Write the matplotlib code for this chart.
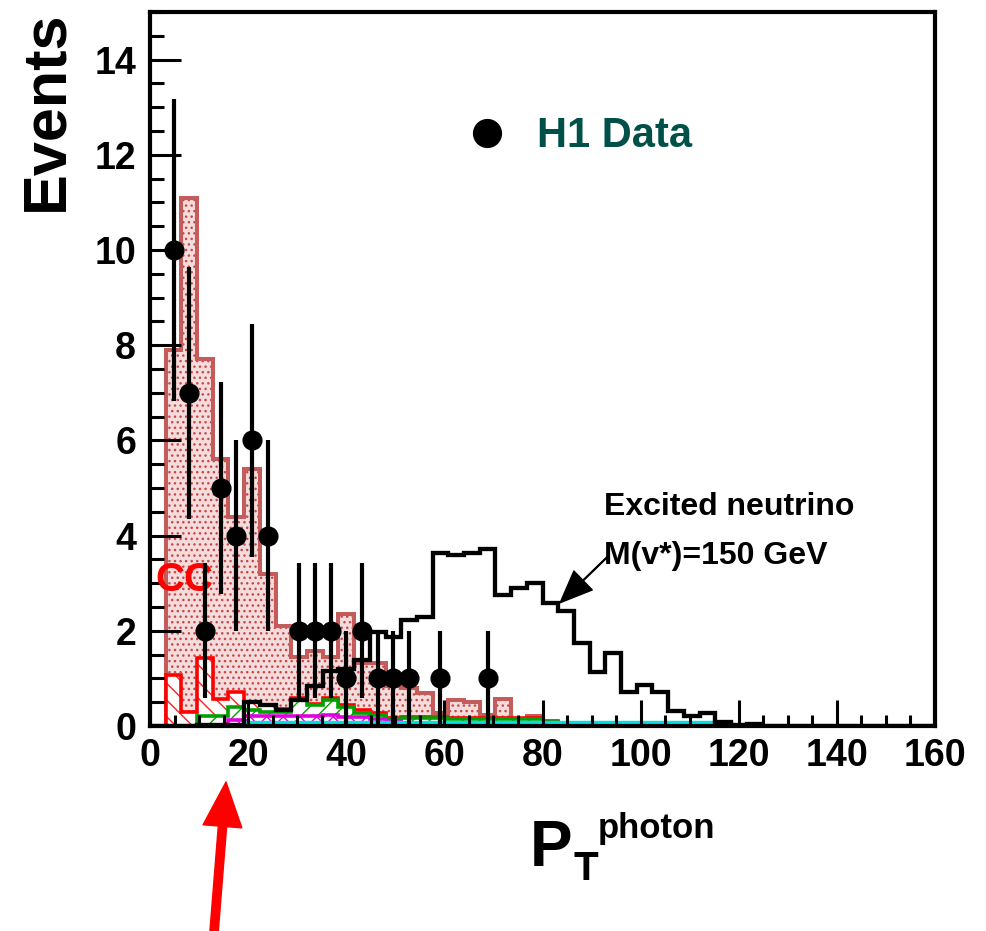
import numpy as np
import matplotlib
matplotlib.use("Agg")
import matplotlib.pyplot as plt
from matplotlib.lines import Line2D
from matplotlib.ticker import MultipleLocator

# -----------------------------
# Binning: 50 bins of 3.2 GeV between 0 and 160
# -----------------------------
n_bins = 50
bin_width = 3.2
edges = np.arange(n_bins + 1) * bin_width


def pad(vals):
    # fill the rest of the 50 bins with zeros
    return np.array(vals + [0.0] * (n_bins - len(vals)))


# stacked MC, each list is the top of the stack at that level
cc_total = pad([0, 7.9, 11.1, 7.7, 5.6, 4.4, 5.4, 3.2, 2.1, 1.45,
                1.58, 1.45, 2.35, 1.32, 1.32, 0.83, 0.80, 0.69, 0.27, 0.55,
                0.50, 0.24, 0.57, 0.0, 0.22, 0.08])
red_stack = pad([0, 1.07, 0.30, 1.42, 0.56, 0.72, 0.51, 0.45, 0.35, 0.58,
                 0.47, 0.58, 0.45, 0.33, 0.28, 0.17, 0.19, 0.19, 0.19, 0.17,
                 0.17, 0.17, 0.17, 0.17, 0.17, 0.10])
green_stack = pad([0, 0, 0, 0.22, 0.22, 0.40, 0.34, 0.30, 0.30, 0.55,
                   0.44, 0.55, 0.40, 0.28, 0.24, 0.14, 0.16, 0.16, 0.16, 0.14,
                   0.14, 0.14, 0.14, 0.14, 0.14, 0.08])
magenta_stack = pad([0, 0, 0, 0, 0, 0.13, 0.20, 0.21, 0.21, 0.20,
                     0.20, 0.23, 0.19, 0.19, 0.14, 0.10])
cyan_stack = pad([0, 0, 0, 0, 0, 0] + [0.11] * 31 + [0.0, 0.04])

# excited neutrino signal, M = 150 GeV
signal = pad([0, 0, 0, 0.03, 0.03, 0.03, 0.51, 0.44, 0.34, 0.55,
              0.85, 1.15, 1.20, 1.38, 1.98, 1.86, 2.23, 2.30, 3.64, 3.60,
              3.64, 3.72, 2.76, 2.90, 3.00, 2.58, 2.41, 1.74, 1.14, 1.53,
              0.72, 0.86, 0.72, 0.32, 0.20, 0.28, 0.09, 0.02, 0.05])

# H1 data
data_pt = [4.8, 8.0, 11.2, 14.4, 17.6, 20.8, 24.0, 30.4, 33.6, 36.8,
           40.0, 43.2, 46.4, 49.6, 52.8, 59.2, 68.8]
data_n = [10, 7, 2, 5, 4, 6, 4, 2, 2, 2, 1, 2, 1, 1, 1, 1, 1]

x_ticks = [0, 20, 40, 60, 80, 100, 120, 140, 160]
y_ticks = [0, 2, 4, 6, 8, 10, 12, 14]

FONT = "Liberation Sans"
plt.rcParams["font.family"] = [FONT, "DejaVu Sans"]
plt.rcParams["font.weight"] = "bold"
plt.rcParams["hatch.linewidth"] = 1.0

W, H = 987, 931
fig = plt.figure(figsize=(W / 100, H / 100), dpi=100)
ax = fig.add_axes([150 / W, 1 - 726 / H, 785 / W, 714 / H])

# --- stacked backgrounds ---
rosy = "#c45c5c"
ax.stairs(cc_total, edges, fill=True, facecolor="#f4dcdc", edgecolor="#c84848",
          hatch="...", linewidth=0)
ax.stairs(cc_total, edges, color=rosy, linewidth=2.9, joinstyle="miter")

ax.stairs(red_stack, edges, fill=True, facecolor="white", edgecolor="#ff2020",
          hatch="\\\\", linewidth=0)
ax.stairs(red_stack, edges, color="#ff0000", linewidth=2.6, joinstyle="miter")

ax.stairs(green_stack, edges, fill=True, facecolor="white", edgecolor="#00a000",
          hatch="//", linewidth=0)
ax.stairs(green_stack, edges, color="#00a000", linewidth=2.6, joinstyle="miter")

ax.stairs(magenta_stack, edges, fill=True, facecolor="white", edgecolor="#e000e0",
          hatch="xx", linewidth=0)
ax.stairs(magenta_stack, edges, color="#e000e0", linewidth=2.6, joinstyle="miter")

ax.stairs(cyan_stack, edges, fill=True, facecolor="#00e0e0", edgecolor="#00e0e0",
          linewidth=1.0)

# --- signal ---
ax.stairs(signal, edges, color="black", linewidth=3.1, joinstyle="miter")

# --- data ---
ax.errorbar(data_pt, data_n, yerr=np.sqrt(data_n), fmt="o", color="black",
            ms=13.5, elinewidth=3.0, capsize=0, zorder=10)

# --- axes style ---
ax.set_xlim(0, 160)
ax.set_ylim(0, 15)
ax.set_xticks(x_ticks)
ax.set_yticks(y_ticks)
ax.xaxis.set_minor_locator(MultipleLocator(5))
ax.yaxis.set_minor_locator(MultipleLocator(0.5))
ax.tick_params(axis="both", which="both", direction="in", top=False, right=False,
               width=2.2, labelsize=27)
ax.tick_params(axis="y", which="major", length=22, pad=10)
ax.tick_params(axis="y", which="minor", length=10)
ax.tick_params(axis="x", which="major", length=19, pad=9)
ax.tick_params(axis="x", which="minor", length=8)
for lab in ax.get_xticklabels() + ax.get_yticklabels():
    lab.set_fontweight("bold")
for sp in ax.spines.values():
    sp.set_linewidth(3)

# --- labels ---
fig.text(47 / W, 1 - 111 / H, "Events", rotation=90, ha="center", va="center",
         fontsize=44, fontweight="bold")
fig.text(530 / W, 1 - 866 / H, "P", ha="left", va="baseline", fontsize=46,
         fontweight="bold")
fig.text(574 / W, 1 - 880 / H, "T", ha="left", va="baseline", fontsize=29,
         fontweight="bold")
fig.text(598 / W, 1 - 838 / H, "photon", ha="left", va="baseline", fontsize=25,
         fontweight="bold")

# --- legend ---
leg = ax.legend(handles=[Line2D([], [], marker="o", ms=20, color="black", ls="none")],
                labels=["H1 Data"], loc="center left", bbox_to_anchor=(0.4025, 0.826),
                frameon=False, borderpad=0, borderaxespad=0, handlelength=1.0,
                handletextpad=0.7, prop={"family": FONT, "weight": "bold", "size": 30})
for t in leg.get_texts():
    t.set_color("#00504a")

# --- annotations ---
ax.text(1.0, 3.07, "CC", color="red", fontsize=29, fontweight="bold",
        ha="left", va="center")
ax.text(92.5, 4.6, "Excited neutrino", fontsize=23, fontweight="bold",
        ha="left", va="center")
ax.text(92.5, 3.58, "M(v*)=150 GeV", fontsize=23, fontweight="bold",
        ha="left", va="center")
ax.annotate("", xy=(83.6, 2.59), xytext=(93.1, 3.54),
            arrowprops=dict(facecolor="black", edgecolor="black", width=0.6,
                            headwidth=19, headlength=23))

# red arrow below the plot
ax.annotate("", xy=(226 / W, 1 - 782 / H), xytext=(213 / W, 1 - 945 / H),
            xycoords="figure fraction", textcoords="figure fraction",
            arrowprops=dict(color="red", width=6, headwidth=28, headlength=32),
            annotation_clip=False)

fig.savefig("out.png", dpi=100)
